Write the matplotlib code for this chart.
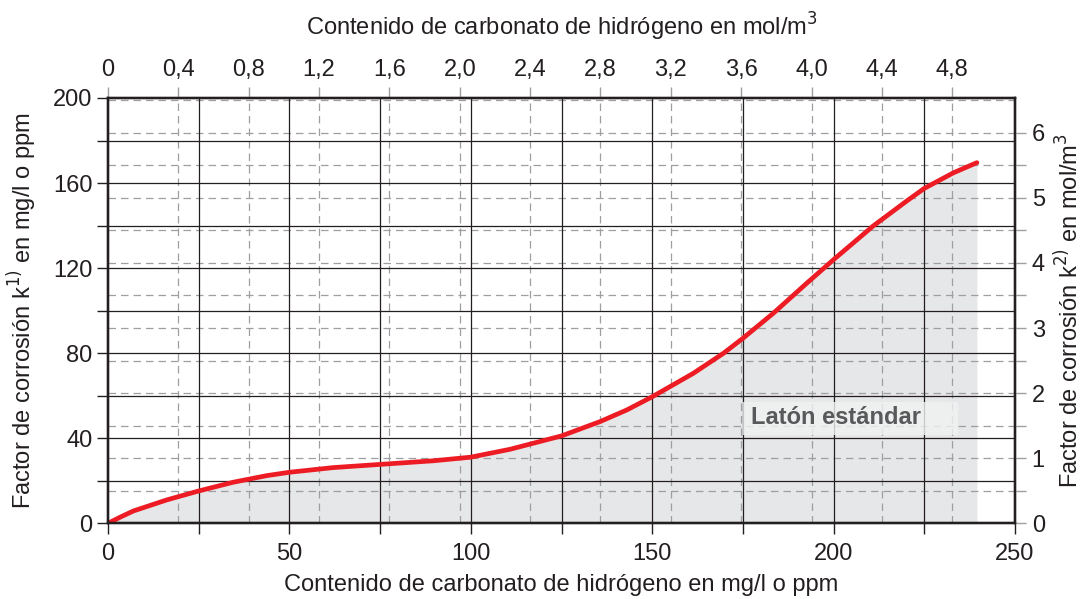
import numpy as np
import matplotlib
matplotlib.use("Agg")
import matplotlib.pyplot as plt
from matplotlib.ticker import MultipleLocator
from matplotlib.patches import Rectangle

plt.rcParams['font.family'] = ['Liberation Sans', 'DejaVu Sans']

# curve (mg/l vs mg/l)
hco3_mg = [0, 3.5, 7, 16.2, 25, 34.5, 43.7, 50, 62.1, 75, 89.7, 100, 110.8, 125,
           135.6, 143, 150, 161.3, 169.6, 175, 183.4, 192.6, 200, 210.9,
           220.1, 225, 233, 239.5]
k_mg = [0, 3.0, 5.8, 11.0, 15.2, 19.3, 22.4, 24.0, 26.2, 27.7, 29.4, 31.1, 34.8,
        41.1, 47.8, 53.3, 59.5, 70.5, 79.9, 87.0, 98.8, 112.9, 124.0, 139.8,
        151.5, 157.5, 164.8, 169.6]

bottom_ticks = [0, 50, 100, 150, 200, 250]
left_ticks = [0, 40, 80, 120, 160, 200]
top_ticks = [0, 0.4, 0.8, 1.2, 1.6, 2.0, 2.4, 2.8, 3.2, 3.6, 4.0, 4.4, 4.8]
top_labels = ['0', '0,4', '0,8', '1,2', '1,6', '2,0', '2,4', '2,8', '3,2',
              '3,6', '4,0', '4,4', '4,8']
right_ticks = [0, 1, 2, 3, 4, 5, 6]
right_minor = [0.5, 1.5, 2.5, 3.5, 4.5, 5.5, 6.0]

# scale of the secondary axes (mg/l per mol/m3, as drawn)
mg_per_mol_x = 48.48
mg_per_mol_y = 30.61

dark = '#231f20'
dash_col = '#9d9fa2'
fs = 17

fig = plt.figure(figsize=(10.86, 5.99), dpi=100)
ax = fig.add_axes([108 / 1086, 1 - 523.3 / 599, 907 / 1086, 425.3 / 599])
ax.set_xlim(0, 250)
ax.set_ylim(0, 200)

# grid: solid for the mg/l scales, dashed for the mol/m3 scales
for v in np.arange(25, 250, 25):
    ax.axvline(v, color=dark, lw=0.9, zorder=1.5)
for v in np.arange(20, 200, 20):
    ax.axhline(v, color=dark, lw=0.9, zorder=1.5)
for v in top_ticks[1:]:
    ax.axvline(v * mg_per_mol_x, color=dash_col, lw=0.9, ls=(0, (6, 4)), zorder=1.4)
for v in np.arange(0.5, 6.6, 0.5):
    ax.axhline(v * mg_per_mol_y, color=dash_col, lw=0.9, ls=(0, (6, 4)), zorder=1.4)

ax.fill_between(hco3_mg, k_mg, 0, color='#e6e7e8', lw=0, zorder=1)
ax.plot(hco3_mg, k_mg, color='#ed1c24', lw=3.4, solid_capstyle='round',
        solid_joinstyle='round', zorder=3)

ax.add_patch(Rectangle((175, 41.5), 59.3, 15.5, fc='#f1f2f2', ec='none',
                       alpha=0.8, zorder=2.4))
ax.text(177.2, 49.6, 'Latón estándar', fontsize=fs, fontweight='bold',
        color='#58595b', va='center', ha='left', zorder=2.5)

ax.set_xticks(bottom_ticks)
ax.xaxis.set_minor_locator(MultipleLocator(25))
ax.set_yticks(left_ticks)
ax.yaxis.set_minor_locator(MultipleLocator(20))
ax.tick_params(axis='both', which='both', direction='out', length=8, width=1,
               color=dark, labelsize=fs, labelcolor=dark)
ax.tick_params(axis='x', pad=6)
ax.tick_params(axis='y', pad=3)
ax.set_xlabel('Contenido de carbonato de hidrógeno en mg/l o ppm',
              fontsize=fs, color=dark, labelpad=7)
ax.set_ylabel('Factor de corrosión k$^{1)}$ en mg/l o ppm',
              fontsize=fs, color=dark, labelpad=10)

top = ax.twiny()
top.set_xlim(0, 250 / mg_per_mol_x)
top.set_xticks(top_ticks)
top.set_xticklabels(top_labels)
top.tick_params(axis='x', direction='out', length=8, width=1, color=dash_col,
                labelsize=fs, labelcolor=dark, pad=4)
top.set_xlabel('Contenido de carbonato de hidrógeno en mol/m$^3$',
               fontsize=fs, color=dark, labelpad=17)

right = ax.twinx()
right.set_ylim(0, 200 / mg_per_mol_y)
right.set_yticks(right_ticks)
right.set_yticks(right_minor, minor=True)
right.tick_params(axis='y', which='both', direction='out', length=8, width=1,
                  color=dash_col, labelsize=fs, labelcolor=dark, pad=4)
right.set_ylabel('Factor de corrosión k$^{2)}$ en mol/m$^3$',
                 fontsize=fs, color=dark, labelpad=7)

for a in (ax, top, right):
    for s in a.spines.values():
        s.set_color(dark)
        s.set_linewidth(1.6)

fig.savefig('out.png', dpi=100)
